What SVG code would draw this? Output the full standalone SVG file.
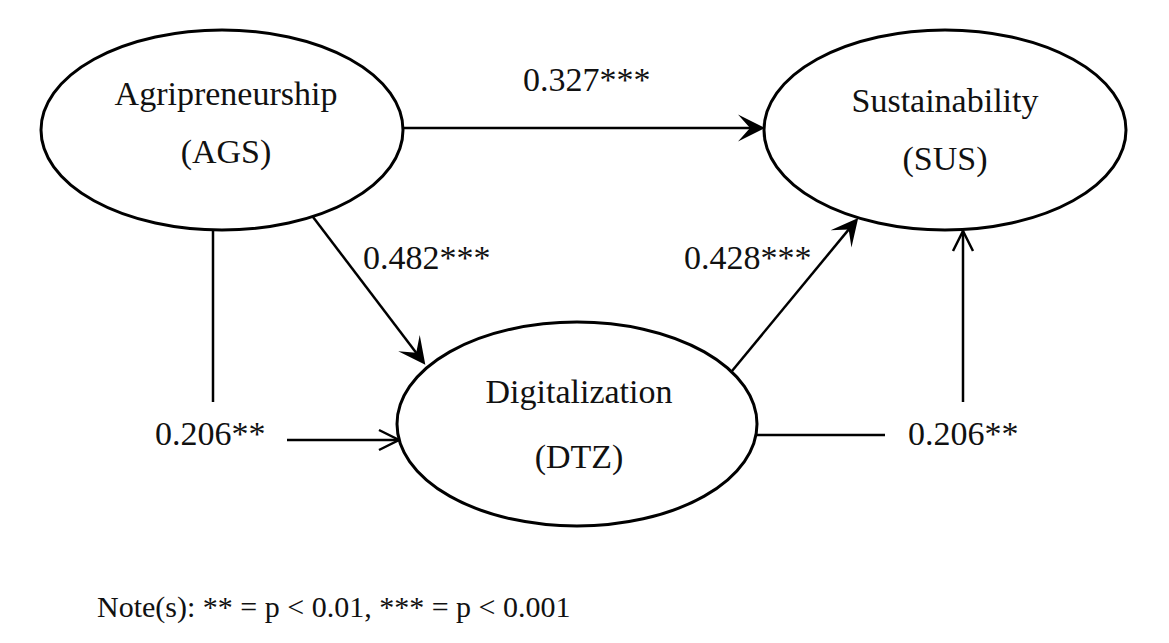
<svg xmlns="http://www.w3.org/2000/svg" width="1169" height="643" viewBox="0 0 1169 643">
<style>
.node ellipse{fill:#fff;stroke:#000;stroke-width:3}
text{font-family:"Liberation Serif","Times New Roman",serif;font-size:34px;fill:#111}
.c{text-anchor:middle}
.ln{stroke:#000;stroke-width:2.5;fill:none}
.note{font-size:30px}
</style>
<defs>
<marker id="fa" markerUnits="userSpaceOnUse" viewBox="-30 -16 32 32" markerWidth="32" markerHeight="32" refX="-6" refY="0" orient="auto">
<path d="M0,0 L-27,-13.5 L-15,0 L-27,13.5 Z" fill="#000"/>
</marker>
<marker id="oa" markerUnits="userSpaceOnUse" viewBox="-24 -14 28 28" markerWidth="28" markerHeight="28" refX="0" refY="0" orient="auto">
<path d="M-20,-10 L0,0 L-20,10" fill="none" stroke="#000" stroke-width="2.5"/>
</marker>
</defs>
<g id="connectors">
<line class="ln" x1="403" y1="128" x2="759" y2="128" marker-end="url(#fa)"/>
<line class="ln" x1="313" y1="217" x2="421.7" y2="359.9" marker-end="url(#fa)"/>
<line class="ln" x1="732" y1="371" x2="854.4" y2="222.6" marker-end="url(#fa)"/>
<line class="ln" x1="213" y1="230" x2="213" y2="402"/>
<line class="ln" x1="287" y1="440" x2="399" y2="440" marker-end="url(#oa)"/>
<line class="ln" x1="757" y1="435" x2="885" y2="435"/>
<line class="ln" x1="963" y1="402" x2="963" y2="231" marker-end="url(#oa)"/>
</g>
<g id="node-ags" class="node">
<ellipse cx="222" cy="130" rx="181" ry="100"/>
<text class="c" x="226" y="105">Agripreneurship</text>
<text class="c" x="226" y="163">(AGS)</text>
</g>
<g id="node-sus" class="node">
<ellipse cx="945" cy="130" rx="181" ry="100"/>
<text class="c" x="945" y="112">Sustainability</text>
<text class="c" x="945" y="170">(SUS)</text>
</g>
<g id="node-dtz" class="node">
<ellipse cx="577" cy="424" rx="180" ry="102"/>
<text class="c" x="579" y="403">Digitalization</text>
<text class="c" x="579" y="468">(DTZ)</text>
</g>
<g id="labels">
<text x="523" y="91">0.327***</text>
<text x="363" y="269">0.482***</text>
<text x="684" y="269">0.428***</text>
<text x="155" y="445">0.206**</text>
<text x="908" y="445">0.206**</text>
<text class="note" x="97" y="617">Note(s): ** = p &lt; 0.01, *** = p &lt; 0.001</text>
</g>
</svg>
